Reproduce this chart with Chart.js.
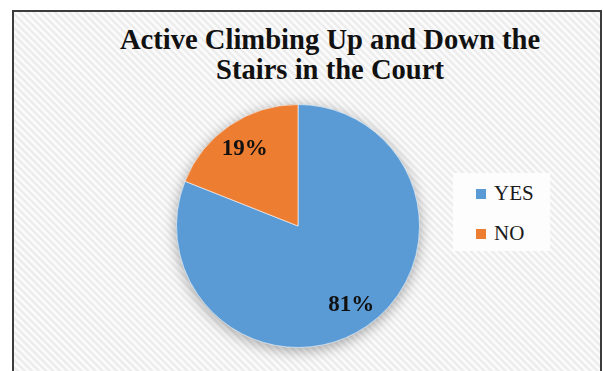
<!DOCTYPE html>
<html>
<head>
<meta charset="utf-8">
<script src="https://cdn.jsdelivr.net/npm/chart.js@4.4.1/dist/chart.umd.min.js"></script>
<style>
  html, body { margin: 0; padding: 0; background: #fff; }
  body { width: 603px; height: 371px; position: relative; overflow: hidden; }
  #frame {
    position: absolute; left: 12px; top: 10px; width: 586px; height: 380px;
    border: 2px solid #3c3c3c;
    background: repeating-linear-gradient(45deg, #ffffff 0px, #e9e9e9 2.5px, #ffffff 5px);
  }
  #title {
    position: absolute; left: 57px; width: 546px; top: 25px;
    text-align: center; font: bold 28.6px "Liberation Serif", "Times New Roman", serif;
    line-height: 30px; color: #111;
  }
  #legend {
    position: absolute; left: 453px; top: 173px; width: 97px; height: 78px;
    background: #fdfdfd;
    font: 21px "Liberation Serif", "Times New Roman", serif; color: #1a1a1a;
  }
  .lg-item { position: absolute; left: 23px; height: 24px; line-height: 24px; }
  .lg-box { display: inline-block; width: 10px; height: 10px; margin-right: 8px; vertical-align: 1px; }
  #chart { position: absolute; left: 0; top: 0; }
</style>
</head>
<body>
<div id="frame"></div>
<div id="title">Active Climbing Up and Down the<br>Stairs in the Court</div>
<div id="legend"></div>
<canvas id="chart" width="603" height="371"></canvas>
<script>
// ── Data ───────────────────────────────────────────
const labels = ['YES', 'NO'];
const values = [81, 19];
const colors = ['#5b9bd5', '#ed7d31'];

// ── Legend ─────────────────────────────────────────
document.getElementById('legend').innerHTML = labels.map((l, i) => `
  <div class="lg-item" style="top:${8 + i * 40}px">
    <span class="lg-box" style="background:${colors[i]}"></span>${l}
  </div>`).join('');

// soft shadow under the whole pie
const pieShadow = {
  id: 'pieShadow',
  beforeDatasetsDraw(chart) {
    const arc = chart.getDatasetMeta(0).data[0];
    if (!arc) return;
    const { x, y, outerRadius } = arc.getProps(['x', 'y', 'outerRadius'], true);
    const ctx = chart.ctx;
    ctx.save();
    ctx.shadowColor = 'rgba(0,0,0,0.35)';
    ctx.shadowBlur = 14;
    ctx.shadowOffsetY = 3;
    ctx.fillStyle = colors[0];
    ctx.beginPath();
    ctx.arc(x, y, outerRadius, 0, Math.PI * 2);
    ctx.fill();
    ctx.restore();
  }
};

// percentage labels inside the slices
const sliceLabels = {
  id: 'sliceLabels',
  afterDatasetsDraw(chart) {
    const ctx = chart.ctx;
    const total = values.reduce((a, b) => a + b, 0);
    ctx.save();
    ctx.font = 'bold 23px "Liberation Serif", serif';
    ctx.fillStyle = '#111';
    ctx.textAlign = 'center';
    ctx.textBaseline = 'middle';
    chart.getDatasetMeta(0).data.forEach((arc, i) => {
      const p = arc.getProps(['x', 'y', 'startAngle', 'endAngle', 'outerRadius'], true);
      const mid = (p.startAngle + p.endAngle) / 2;
      const r = p.outerRadius * 0.78;
      const pct = Math.round(values[i] / total * 100) + '%';
      ctx.fillText(pct, p.x + Math.cos(mid) * r, p.y + Math.sin(mid) * r + 1);
    });
    ctx.restore();
  }
};

new Chart(document.getElementById('chart'), {
  type: 'pie',
  data: {
    labels,
    datasets: [{
      data: values,
      backgroundColor: colors,
      borderColor: 'rgba(255,255,255,0.6)',
      borderWidth: 1,
    }],
  },
  options: {
    responsive: false,
    animation: false,
    layout: { padding: { left: 176, right: 183, top: 104, bottom: 23 } },
    plugins: {
      legend: { display: false },
      tooltip: { enabled: false },
    },
  },
  plugins: [pieShadow, sliceLabels],
});
</script>
</body>
</html>
